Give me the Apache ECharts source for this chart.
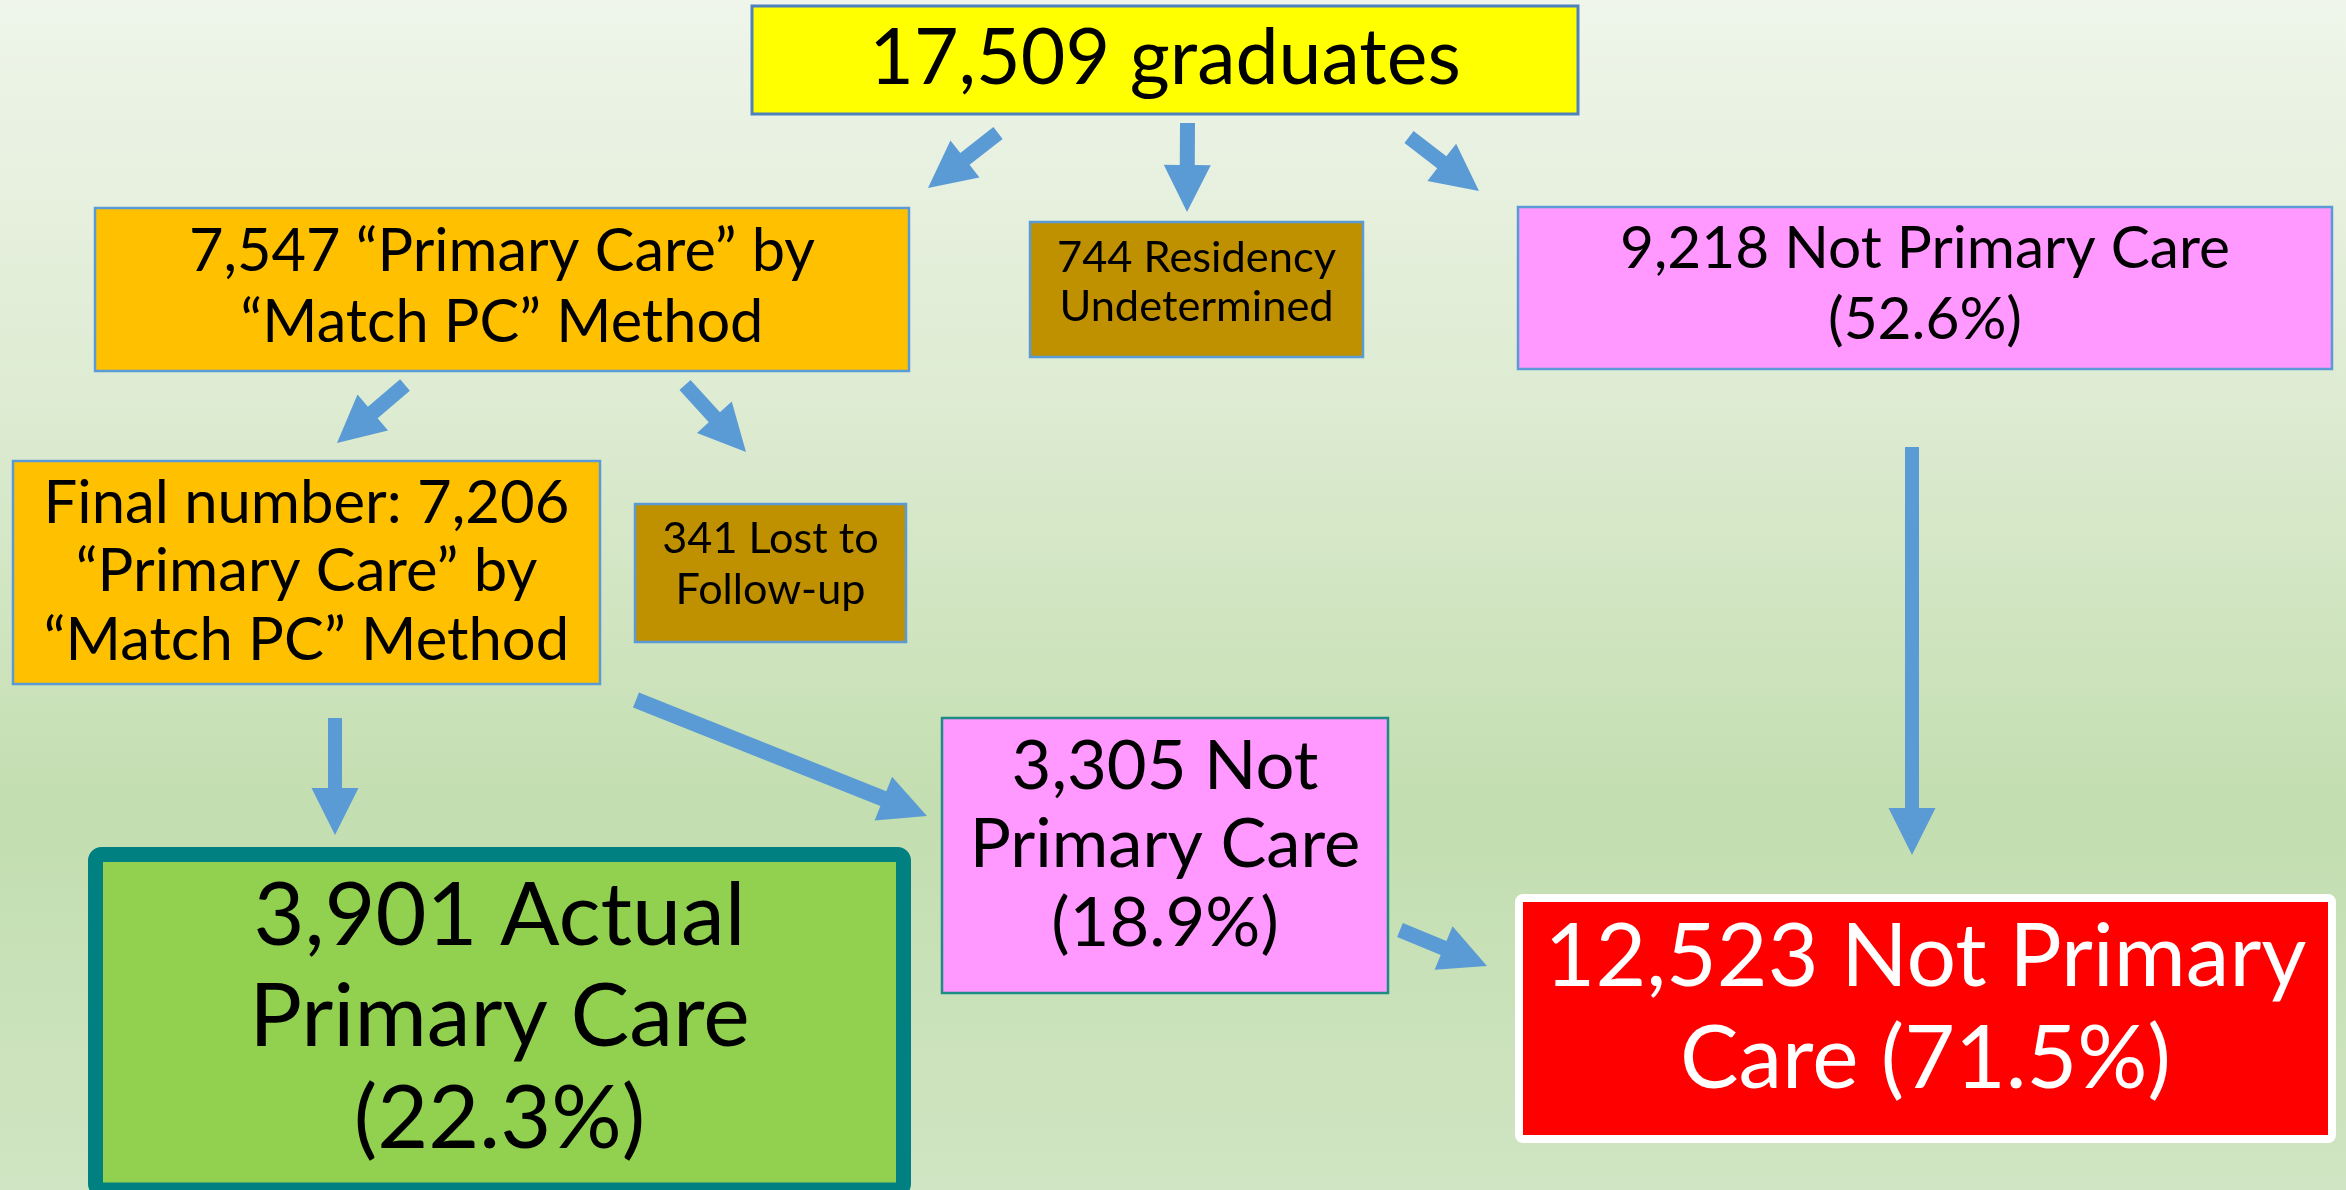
<!DOCTYPE html>
<html><head><meta charset="utf-8">
<script src="https://cdn.jsdelivr.net/npm/echarts@6/dist/echarts.min.js"></script>
<style>html,body{margin:0;padding:0;background:#fff;}#c{width:2346px;height:1190px;}</style>
</head><body><div id="c"></div>
<script>
// ---- values ----
const stageKeys = ['graduates', 'matchPC', 'undetermined', 'notPC52', 'finalPC', 'lost', 'notPC18', 'actualPC', 'notPCTotal'];
const stageCounts = [17509, 7547, 744, 9218, 7206, 341, 3305, 3901, 12523];
const stagePercents = [null, null, null, 52.6, null, null, 18.9, 22.3, 71.5];
const stageTemplates = [
  '{n} graduates',
  '{n} “Primary Care” by\n“Match PC” Method',
  '{n} Residency\nUndetermined',
  '{n} Not Primary Care\n({p}%)',
  'Final number: {n}\n“Primary Care” by\n“Match PC” Method',
  '{n} Lost to\nFollow-up',
  '{n} Not\nPrimary Care\n({p}%)',
  '{n} Actual\nPrimary Care\n({p}%)',
  '{n} Not Primary\nCare ({p}%)'
];
// flow links (from stage -> to stage)
const flowFrom = [0, 0, 0, 1, 1, 3, 4, 4, 6];
const flowTo   = [1, 2, 3, 4, 5, 8, 7, 6, 8];

// ---- layout (positions / styles) ----
const W = 2346, H = 1190;
const boxRect = [
  [752, 6, 1578, 114],
  [95, 208, 909, 371],
  [1030, 222, 1363, 357],
  [1518, 207, 2332, 369],
  [13, 461, 600, 684],
  [635, 504, 906, 642],
  [942, 718, 1388, 993],
  [95.5, 854.5, 903.5, 1190],
  [1519, 898, 2332, 1139]
];
const boxStyle = [
  {fill: '#FFFF00', stroke: '#4F81BD', lw: 3, font: 77, lh: 80, cy: 59, color: '#000'},
  {fill: '#FFC000', stroke: '#5B9BD5', lw: 2.5, font: 59.5, lh: 71, cy: 287, color: '#000'},
  {fill: '#BF9000', stroke: '#5B9BD5', lw: 2.5, font: 43.4, lh: 49, cy: 282, color: '#000'},
  {fill: '#FF99FF', stroke: '#5B9BD5', lw: 2.5, font: 58.6, lh: 71, cy: 285, color: '#000'},
  {fill: '#FFC000', stroke: '#5B9BD5', lw: 2.5, font: 59.8, lh: 68.5, cy: 572, color: '#000'},
  {fill: '#BF9000', stroke: '#5B9BD5', lw: 2.5, font: 43.2, lh: 51, cy: 565, color: '#000'},
  {fill: '#FF99FF', stroke: '#1E8C84', lw: 2.5, font: 68.7, lh: 78.5, cy: 845, color: '#000'},
  {fill: '#92D050', stroke: '#008080', lw: 15, font: 88, lh: 101.5, cy: 1018, color: '#000', r: 6},
  {fill: '#FF0000', stroke: '#FFFFFF', lw: 8, font: 87.6, lh: 102, cy: 1009, color: '#FFF', r: 4}
];
// arrow geometry per flow: tail point -> tip point
const arrowGeom = [
  [998, 133, 928, 188],
  [1187.5, 123, 1187, 212],
  [1409, 137, 1479, 191],
  [405, 385, 337, 443],
  [685, 385, 746, 452],
  [1912, 447, 1912, 855],
  [335, 718, 335, 835],
  [636, 700, 927, 816],
  [1400, 930, 1487, 966]
];
const arrowShaft = [15, 15, 15, 15, 15, 14, 14, 16, 15];

function fmt(n) { return n.toLocaleString('en-US'); }
const stageLabels = stageTemplates.map((t, i) =>
  t.replace('{n}', fmt(stageCounts[i])).replace('{p}', stagePercents[i] == null ? '' : stagePercents[i].toFixed(1)));

const chart = echarts.init(document.getElementById('c'), null, {renderer: 'canvas'});

const boxData = stageCounts.map((v, i) => ({
  name: stageKeys[i],
  value: [(boxRect[i][0] + boxRect[i][2]) / 2, (boxRect[i][1] + boxRect[i][3]) / 2, v]
}));
const arrowData = flowFrom.map((f, i) => ({
  name: stageKeys[f] + '>' + stageKeys[flowTo[i]],
  value: [arrowGeom[i][0], arrowGeom[i][1], stageCounts[flowTo[i]]]
}));

const option = {
  animation: false,
  backgroundColor: {
    type: 'linear', x: 0, y: 0, x2: 0, y2: 1,
    colorStops: [
      {offset: 0, color: '#EFF5EA'},
      {offset: 0.35, color: '#DDEBD1'},
      {offset: 0.68, color: '#C3DEB0'},
      {offset: 1, color: '#D0E5C3'}
    ]
  },
  grid: {left: 0, right: 0, top: 0, bottom: 0},
  xAxis: {type: 'value', min: 0, max: W, show: false},
  yAxis: {type: 'value', min: 0, max: H, inverse: true, show: false},
  series: [
    {
      type: 'custom',
      name: 'arrows',
      silent: true,
      clip: false,
      data: arrowData,
      encode: {x: 0, y: 1},
      renderItem: function (params, api) {
        const g = arrowGeom[params.dataIndex];
        const a = api.coord([g[0], g[1]]);
        const b = api.coord([g[2], g[3]]);
        const dx = b[0] - a[0], dy = b[1] - a[1];
        const len = Math.sqrt(dx * dx + dy * dy);
        const ux = dx / len, uy = dy / len;
        const nx = -uy, ny = ux;
        const hs = arrowShaft[params.dataIndex] / 2, hh = 23.5, hl = 47;
        const bx = b[0] - ux * hl, by = b[1] - uy * hl;
        const pts = [
          [a[0] + nx * hs, a[1] + ny * hs],
          [bx + nx * hs, by + ny * hs],
          [bx + nx * hh, by + ny * hh],
          [b[0], b[1]],
          [bx - nx * hh, by - ny * hh],
          [bx - nx * hs, by - ny * hs],
          [a[0] - nx * hs, a[1] - ny * hs]
        ];
        return {type: 'polygon', shape: {points: pts}, style: {fill: '#5B9BD5'}};
      }
    },
    {
      type: 'custom',
      name: 'stages',
      silent: true,
      clip: false,
      data: boxData,
      encode: {x: 0, y: 1},
      renderItem: function (params, api) {
        const i = params.dataIndex;
        const r = boxRect[i], s = boxStyle[i];
        const p0 = api.coord([r[0], r[1]]);
        const p1 = api.coord([r[2], r[3]]);
        const c = api.coord([api.value(0), s.cy]);
        return {
          type: 'group',
          children: [
            {
              type: 'rect',
              shape: {x: p0[0], y: p0[1], width: p1[0] - p0[0], height: p1[1] - p0[1], r: s.r || 0},
              style: {fill: s.fill, stroke: s.stroke, lineWidth: s.lw}
            },
            {
              type: 'text',
              style: {
                text: stageLabels[i],
                x: c[0], y: c[1],
                fill: s.color,
                fontSize: s.font,
                fontFamily: 'Lato',
                lineHeight: s.lh,
                align: 'center',
                verticalAlign: 'middle'
              }
            }
          ]
        };
      }
    }
  ]
};
chart.setOption(option);
</script>
</body></html>
